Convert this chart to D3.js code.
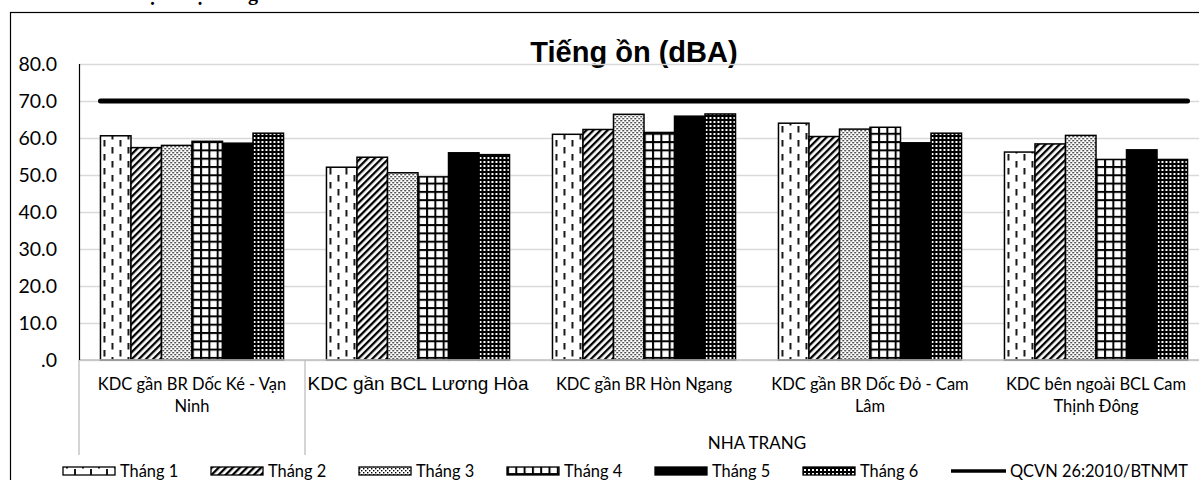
<!DOCTYPE html>
<html>
<head>
<meta charset="utf-8">
<script src="https://cdn.jsdelivr.net/npm/d3@7"></script>
<style>
  html, body { margin: 0; padding: 0; background: #fff; }
  svg { display: block; }
</style>
</head>
<body>
<svg id="chart" width="1199" height="480"></svg>
<script>
// Noise measurements (dBA) per site and month
const categories = [
  "KDC gần BR Dốc Ké - Vạn Ninh",
  "KDC gần BCL Lương Hòa",
  "KDC gần BR Hòn Ngang",
  "KDC gần BR Dốc Đỏ - Cam Lâm",
  "KDC bên ngoài BCL Cam Thịnh Đông"
];
const categoryLines = [
  ["KDC gần BR Dốc Ké - Vạn", "Ninh"],
  ["KDC gần BCL Lương Hòa"],
  ["KDC gần BR Hòn Ngang"],
  ["KDC gần BR Dốc Đỏ - Cam", "Lâm"],
  ["KDC bên ngoài BCL Cam", "Thịnh Đông"]
];
const outerGroups = [
  { label: "", from: 0, to: 0 },
  { label: "NHA TRANG", from: 1, to: 4 }
];
const months = ["Tháng 1", "Tháng 2", "Tháng 3", "Tháng 4", "Tháng 5", "Tháng 6"];
const thang1 = [60.6, 52.1, 61.0, 64.0, 56.2];
const thang2 = [57.4, 54.8, 62.3, 60.4, 58.4];
const thang3 = [58.0, 50.6, 66.4, 62.4, 60.7];
const thang4 = [59.1, 49.5, 61.5, 62.9, 54.2];
const thang5 = [58.6, 56.0, 65.9, 58.7, 56.8];
const thang6 = [61.3, 55.5, 66.5, 61.3, 54.2];
const seriesValues = [thang1, thang2, thang3, thang4, thang5, thang6];
const limitLabel = "QCVN 26:2010/BTNMT";
const limitValues = [70, 70, 70, 70, 70];
const yTicks = [0, 10, 20, 30, 40, 50, 60, 70, 80];
const chartTitle = "Tiếng ồn (dBA)";
const headingText = "Độ ồn tại vùng";

const svg = d3.select("#chart");
const defs = svg.append("defs");

// ---- fill patterns (black & white hatching) ----
function pattern(id, w, h, build, transform) {
  const p = defs.append("pattern")
    .attr("id", id)
    .attr("patternUnits", "userSpaceOnUse")
    .attr("width", w).attr("height", h);
  if (transform) p.attr("patternTransform", transform);
  build(p);
}
// dashed vertical
pattern("p1", 16, 14, p => {
  p.append("rect").attr("width", 16).attr("height", 14).attr("fill", "#fff");
  p.append("line").attr("x1", 4).attr("x2", 4).attr("y1", 0).attr("y2", 6.5)
    .attr("stroke", "#000").attr("stroke-width", 1.8);
  p.append("line").attr("x1", 12).attr("x2", 12).attr("y1", 7).attr("y2", 13.5)
    .attr("stroke", "#000").attr("stroke-width", 1.8);
});
// wide upward diagonal
pattern("p2", 5, 5, p => {
  p.append("rect").attr("width", 5).attr("height", 5).attr("fill", "#fff");
  p.append("rect").attr("width", 2.3).attr("height", 5).attr("fill", "#000");
}, "rotate(45)");
// dotted
pattern("p3", 4, 4, p => {
  p.append("rect").attr("width", 4).attr("height", 4).attr("fill", "#fff");
  p.append("rect").attr("x", 0).attr("y", 0).attr("width", 1.4).attr("height", 1.4).attr("fill", "#000");
  p.append("rect").attr("x", 2).attr("y", 2).attr("width", 1.4).attr("height", 1.4).attr("fill", "#000");
});
// large grid
pattern("p4", 8.3, 8.3, p => {
  p.append("rect").attr("width", 8.3).attr("height", 8.3).attr("fill", "#000");
  p.append("rect").attr("x", 2).attr("y", 2).attr("width", 6.3).attr("height", 6.3).attr("fill", "#fff");
});
// solid
pattern("p5", 4, 4, p => {
  p.append("rect").attr("width", 4).attr("height", 4).attr("fill", "#000");
});
// dark dotted grid
pattern("p6", 4, 4, p => {
  p.append("rect").attr("width", 4).attr("height", 4).attr("fill", "#000");
  p.append("rect").attr("x", 1).attr("y", 1).attr("width", 2).attr("height", 2).attr("fill", "#fff");
});
const fills = ["url(#p1)", "url(#p2)", "url(#p3)", "url(#p4)", "url(#p5)", "url(#p6)"];

// ---- layout ----
const plot = { left: 79, top: 64, bottom: 360, right: 1209 };
const axisBottom = 455;

// section heading above the chart frame
svg.append("text")
  .attr("x", 133).attr("y", -0.5)
  .attr("font-family", "Liberation Serif, serif")
  .attr("font-weight", "bold")
  .attr("font-size", 20)
  .attr("fill", "#000")
  .text(headingText);

// chart frame
svg.append("rect")
  .attr("x", 10.5).attr("y", 12.5)
  .attr("width", 1210).attr("height", 500)
  .attr("fill", "#fff")
  .attr("stroke", "#000").attr("stroke-width", 1.2);

const x = d3.scaleBand()
  .domain(categories)
  .range([plot.left, plot.right])
  .paddingInner(0.19)
  .paddingOuter(0.095);
const xm = d3.scaleBand()
  .domain(months)
  .range([0, x.bandwidth()])
  .padding(0);
const y = d3.scaleLinear().domain([0, 80]).range([plot.bottom, plot.top]);

// title
svg.append("text")
  .attr("x", 634).attr("y", 62)
  .attr("text-anchor", "middle")
  .attr("font-family", "Liberation Sans, Arial, sans-serif")
  .attr("font-weight", "bold")
  .attr("font-size", 29)
  .attr("fill", "#000")
  .text(chartTitle);

// gridlines
svg.append("g")
  .attr("transform", `translate(${plot.left},0)`)
  .call(d3.axisRight(y).tickValues(yTicks).tickSize(plot.right - plot.left).tickFormat(""))
  .call(g => g.select(".domain").remove())
  .call(g => g.selectAll("line").attr("stroke", "#d9d9d9").attr("stroke-width", 1.3));

// y axis labels
svg.append("g")
  .attr("transform", `translate(${plot.left},0)`)
  .call(d3.axisLeft(y).tickValues(yTicks).tickSize(0).tickPadding(22)
    .tickFormat(d => d === 0 ? ".0" : d.toFixed(1)))
  .call(g => g.select(".domain").remove())
  .call(g => g.selectAll("text")
    .attr("font-family", "Lato, sans-serif")
    .attr("font-size", 19.5)
    .attr("fill", "#000"));

// bars
const groups = svg.append("g").selectAll("g")
  .data(categories)
  .join("g")
  .attr("transform", d => `translate(${x(d)},0)`);
groups.selectAll("rect")
  .data((d, ci) => months.map((m, si) => ({ m, si, v: seriesValues[si][ci] })))
  .join("rect")
  .attr("x", d => xm(d.m))
  .attr("y", d => y(d.v))
  .attr("width", xm.bandwidth())
  .attr("height", d => y(0) - y(d.v))
  .attr("fill", d => fills[d.si])
  .attr("stroke", "#000")
  .attr("stroke-width", 1.5);

// horizontal category axis line
svg.append("line")
  .attr("x1", plot.left).attr("x2", plot.right)
  .attr("y1", plot.bottom).attr("y2", plot.bottom)
  .attr("stroke", "#bfbfbf").attr("stroke-width", 1.3);

// y axis line
svg.append("line")
  .attr("x1", plot.left + 0.5).attr("x2", plot.left + 0.5)
  .attr("y1", plot.top).attr("y2", plot.bottom)
  .attr("stroke", "#000").attr("stroke-width", 1.2);

// outer group separators
const sepXs = [plot.left, x(categories[1]) - x.step() * x.paddingInner() / 2, plot.right];
svg.append("g").selectAll("line")
  .data(sepXs)
  .join("line")
  .attr("x1", d => d).attr("x2", d => d)
  .attr("y1", plot.bottom).attr("y2", axisBottom)
  .attr("stroke", "#bfbfbf").attr("stroke-width", 1.3);

// category labels
const catLabels = svg.append("g").selectAll("text")
  .data(categories)
  .join("text")
  .attr("text-anchor", "middle")
  .attr("font-family", (d, i) => i === 1 ? "Liberation Sans, Arial, sans-serif" : "Lato, sans-serif")
  .attr("font-size", (d, i) => i === 1 ? 19 : 16.5)
  .attr("fill", "#000");
catLabels.selectAll("tspan")
  .data((d, i) => categoryLines[i].map(t => ({ t, c: d })))
  .join("tspan")
  .attr("x", d => x(d.c) + x.bandwidth() / 2)
  .attr("y", (d, j) => 390 + j * 22)
  .text(d => d.t);

// outer group labels
svg.append("g").selectAll("text")
  .data(outerGroups.filter(g => g.label))
  .join("text")
  .attr("x", g => (x(categories[g.from]) - x.step() * x.paddingInner() / 2 +
                   x(categories[g.to]) + x.bandwidth() + x.step() * x.paddingInner() / 2) / 2)
  .attr("y", 449)
  .attr("text-anchor", "middle")
  .attr("font-family", "Lato, sans-serif")
  .attr("font-size", 17)
  .attr("fill", "#000")
  .text(g => g.label);

// limit line
const xl = d3.scalePoint()
  .domain(categories)
  .range([x(categories[0]), x(categories[categories.length - 1]) + x.bandwidth()]);
svg.append("path")
  .datum(limitValues)
  .attr("d", d3.line().x((d, i) => xl(categories[i])).y(d => y(d)))
  .attr("fill", "none")
  .attr("stroke", "#000")
  .attr("stroke-width", 5)
  .attr("stroke-linecap", "round");

// legend
const legendItems = months.map((m, i) => ({ label: m, fill: fills[i], type: "bar" }))
  .concat([{ label: limitLabel, type: "line" }]);
const legend = svg.append("g").selectAll("g")
  .data(legendItems)
  .join("g")
  .attr("transform", (d, i) => `translate(${63 + i * 148},0)`);
legend.filter(d => d.type === "bar").append("rect")
  .attr("x", 0).attr("y", 467)
  .attr("width", 52).attr("height", 8)
  .attr("fill", d => d.fill)
  .attr("stroke", "#000").attr("stroke-width", 1.3);
legend.filter(d => d.type === "line").append("line")
  .attr("x1", 0).attr("x2", 55)
  .attr("y1", 471).attr("y2", 471)
  .attr("stroke", "#000").attr("stroke-width", 3.5);
legend.append("text")
  .attr("x", d => d.type === "bar" ? 57 : 59)
  .attr("y", 477)
  .attr("font-family", "Lato, sans-serif")
  .attr("font-size", 16.4)
  .attr("fill", "#000")
  .text(d => d.label);
</script>
</body>
</html>
